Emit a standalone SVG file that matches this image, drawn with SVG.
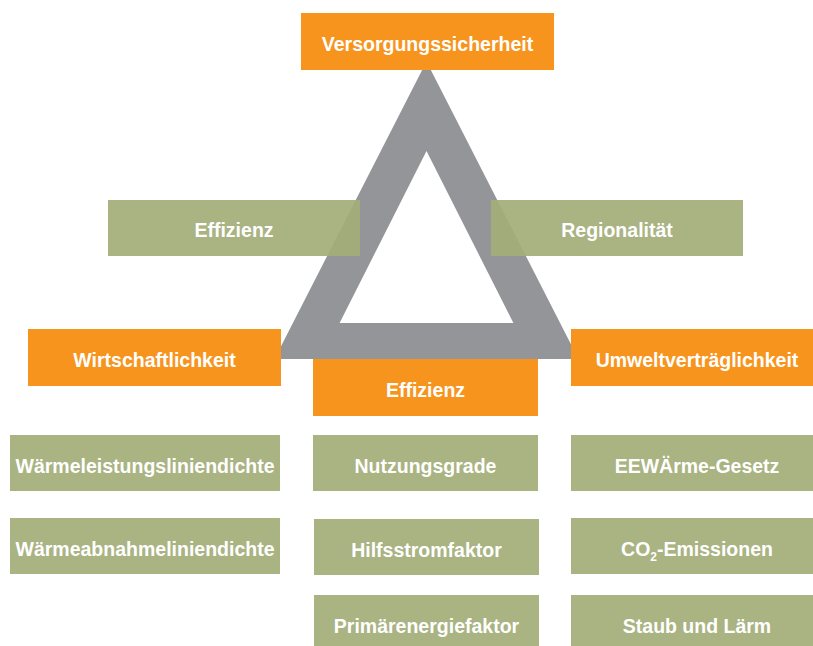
<svg xmlns="http://www.w3.org/2000/svg" width="813" height="646" viewBox="0 0 813 646">
<style>
.o{fill:#f7941e}
.g{fill:#a3ac77;fill-opacity:0.92}
.t{font-family:"Liberation Sans",Arial,sans-serif;font-weight:bold;font-size:19.5px;fill:#ffffff;text-anchor:middle}
.tri{fill:#939598;fill-rule:evenodd}
</style>
<rect width="813" height="646" fill="#ffffff"/>
<g id="connectors">
<path class="tri" d="M426.5,61.5 L578.5,359 L274.5,359 Z M426.5,151 L339.6,323 L513.4,323 Z"/>
</g>
<g id="versorgungssicherheit"><rect class="o" x="301" y="13" width="253" height="57"/><text class="t" x="427.5" y="50.5">Versorgungssicherheit</text></g>
<g id="effizienz-top"><rect class="g" x="108" y="200" width="252" height="56"/><text class="t" x="234" y="237">Effizienz</text></g>
<g id="regionalitaet"><rect class="g" x="491" y="200" width="252" height="56"/><text class="t" x="617" y="237">Regionalität</text></g>
<g id="wirtschaftlichkeit"><rect class="o" x="28" y="329" width="253" height="57"/><text class="t" x="154.5" y="366.5">Wirtschaftlichkeit</text></g>
<g id="umweltvertraeglichkeit"><rect class="o" x="571" y="329" width="253" height="57"/><text class="t" x="697" y="366.5">Umweltverträglichkeit</text></g>
<g id="effizienz"><rect class="o" x="313" y="359" width="225" height="57"/><text class="t" x="425.5" y="396.5">Effizienz</text></g>
<g id="waermeleistungsliniendichte"><rect class="g" x="10" y="435" width="270" height="56"/><text class="t" x="145" y="472.5">Wärmeleistungsliniendichte</text></g>
<g id="nutzungsgrade"><rect class="g" x="313" y="435" width="225" height="56"/><text class="t" x="425.5" y="472.5">Nutzungsgrade</text></g>
<g id="eewaerme-gesetz"><rect class="g" x="571" y="435" width="252" height="56"/><text class="t" x="697" y="472.5">EEWÄrme-Gesetz</text></g>
<g id="waermeabnahmeliniendichte"><rect class="g" x="10" y="518" width="270" height="56"/><text class="t" x="145" y="556">Wärmeabnahmeliniendichte</text></g>
<g id="hilfsstromfaktor"><rect class="g" x="314" y="519" width="225" height="56"/><text class="t" x="426.5" y="556.5">Hilfsstromfaktor</text></g>
<g id="co2-emissionen"><rect class="g" x="571" y="518" width="252" height="56"/><text class="t" x="697" y="556">CO<tspan font-size="12" dy="5">2</tspan><tspan dy="-5">-Emissionen</tspan></text></g>
<g id="primaerenergiefaktor"><rect class="g" x="314" y="595" width="225" height="56"/><text class="t" x="426.5" y="632.5">Primärenergiefaktor</text></g>
<g id="staub-und-laerm"><rect class="g" x="571" y="595" width="252" height="56"/><text class="t" x="697" y="632.5">Staub und Lärm</text></g>
</svg>
